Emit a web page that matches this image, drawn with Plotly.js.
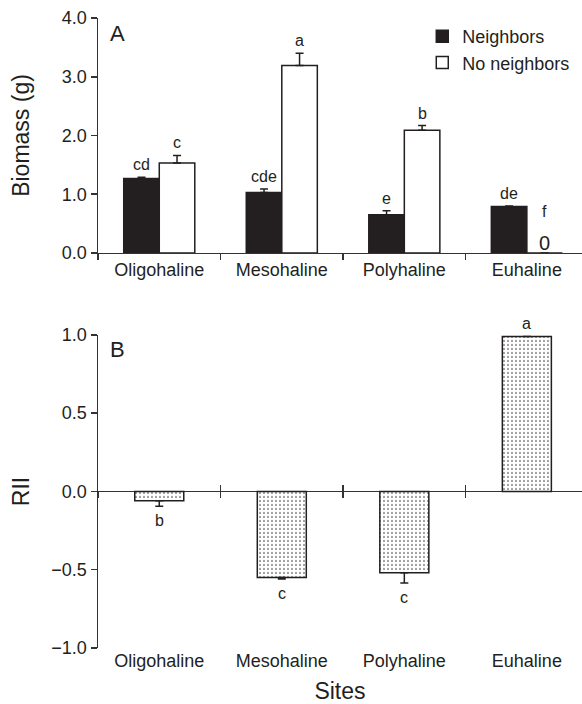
<!DOCTYPE html>
<html>
<head>
<meta charset="utf-8">
<script src="https://cdn.plot.ly/plotly-3.0.1.min.js"></script>
<style>html,body{margin:0;padding:0;background:#fff;}#chart{width:582px;height:704px;}</style>
</head>
<body>
<div id="chart"></div>
<script>
// ---- data ----
const sites = ['Oligohaline', 'Mesohaline', 'Polyhaline', 'Euhaline'];
const neighbors = [1.27, 1.03, 0.65, 0.79];
const neighborsErr = [0.02, 0.06, 0.07, 0.01];
const neighborsLetters = ['cd', 'cde', 'e', 'de'];
const noNeighbors = [1.53, 3.19, 2.09, 0];
const noNeighborsErr = [0.13, 0.21, 0.08, 0];
const noNeighborsLetters = ['c', 'a', 'b', 'f'];
const rii = [-0.06, -0.55, -0.52, 0.99];
const riiErr = [0.035, 0.01, 0.065, 0];
const riiLetters = ['b', 'c', 'c', 'a'];

// ---- styling ----
const FONT = 'Liberation Sans, Arial, Helvetica, sans-serif';
const INK = '#231f20';
const AX = '#333333';
const BARGAP = 0.42;
const half = (1 - BARGAP) / 4; // offset of each grouped bar centre
const domA = [0.627, 1];
const domB = [0, 0.497];
const yBRange = [-1, 1];
const zeroPos = domB[0] + (0 - yBRange[0]) / (yBRange[1] - yBRange[0]) * (domB[1] - domB[0]);
const xRange = [-0.5, 3.45];
const zeros = sites.map(() => 0);

const traces = [
  {
    type: 'bar', name: 'Neighbors', x: sites, y: neighbors, xaxis: 'x', yaxis: 'y',
    marker: {color: INK, line: {color: INK, width: 1.5}},
    error_y: {type: 'data', symmetric: false, array: neighborsErr, arrayminus: zeros, color: INK, thickness: 1.5, width: 4},
    hoverinfo: 'skip'
  },
  {
    type: 'bar', name: 'No neighbors', x: sites, y: noNeighbors, xaxis: 'x', yaxis: 'y',
    marker: {color: '#ffffff', line: {color: INK, width: 1.5}},
    error_y: {type: 'data', symmetric: false, array: noNeighborsErr, arrayminus: zeros, color: INK, thickness: 1.5, width: 4},
    hoverinfo: 'skip'
  },
  {
    type: 'bar', name: 'RII', x: sites, y: rii, xaxis: 'x2', yaxis: 'y2', width: 0.4, showlegend: false,
    marker: {color: '#ffffff', line: {color: INK, width: 1.5},
      pattern: {shape: '.', fgcolor: '#444444', bgcolor: '#ffffff', size: 4, solidity: 0.15}},
    error_y: {type: 'data', symmetric: false, array: zeros, arrayminus: riiErr, color: INK, thickness: 1.5, width: 4},
    hoverinfo: 'skip'
  },
  {type: 'scatter', mode: 'none', x: sites, y: rii, xaxis: 'x3', yaxis: 'y2', showlegend: false, hoverinfo: 'skip'},
  {type: 'scatter', mode: 'none', x: sites, y: rii, xaxis: 'x4', yaxis: 'y2', showlegend: false, hoverinfo: 'skip'}
];

const annotations = [];
const letterFont = {family: FONT, size: 16, color: INK};
sites.forEach((s, i) => {
  annotations.push({xref: 'x', yref: 'y', x: i - half, y: neighbors[i] + neighborsErr[i], text: neighborsLetters[i],
    showarrow: false, yanchor: 'middle', yshift: 12.5, font: letterFont});
  if (noNeighbors[i] === 0) {
    annotations.push({xref: 'x', yref: 'y', x: i + half, y: 0, text: String(noNeighbors[i]),
      showarrow: false, yanchor: 'middle', yshift: 10, font: {family: FONT, size: 20, color: INK}});
    annotations.push({xref: 'x', yref: 'y', x: i + half, y: 0, text: noNeighborsLetters[i],
      showarrow: false, yanchor: 'middle', yshift: 41, font: letterFont});
  } else {
    annotations.push({xref: 'x', yref: 'y', x: i + half, y: noNeighbors[i] + noNeighborsErr[i], text: noNeighborsLetters[i],
      showarrow: false, yanchor: 'middle', yshift: 12.5, font: letterFont});
  }
  const neg = rii[i] < 0;
  annotations.push({xref: 'x2', yref: 'y2', x: i, y: neg ? rii[i] - riiErr[i] : rii[i],
    text: riiLetters[i], showarrow: false, yanchor: 'middle', yshift: neg ? -14 : 13, font: letterFont});
});
annotations.push({xref: 'x domain', yref: 'y domain', x: 0.02, y: 0.995, xanchor: 'left', yanchor: 'top',
  text: 'A', showarrow: false, font: {family: FONT, size: 22, color: INK}});
annotations.push({xref: 'x2 domain', yref: 'y2 domain', x: 0.02, y: 1.0, xanchor: 'left', yanchor: 'top',
  text: 'B', showarrow: false, font: {family: FONT, size: 22, color: INK}});

const tickFont = {family: FONT, size: 18, color: INK};
const titleFont = {family: FONT, size: 23, color: INK};

const layout = {
  width: 582, height: 704,
  margin: {l: 98, r: 0, t: 18, b: 56},
  paper_bgcolor: '#ffffff', plot_bgcolor: 'rgba(0,0,0,0)',
  font: {family: FONT, color: INK},
  barmode: 'group', bargap: BARGAP, bargroupgap: 0,
  showlegend: true,
  legend: {x: 0.67, xanchor: 'left', y: 1.0, yanchor: 'top', bgcolor: 'rgba(0,0,0,0)',
    font: {family: FONT, size: 18, color: INK}, tracegroupgap: 0, itemwidth: 30},
  xaxis: {domain: [0, 1], anchor: 'y', type: 'category', range: xRange, showline: true, linecolor: AX, linewidth: 1.5,
    ticks: 'outside', tickson: 'boundaries', ticklen: 6, tickwidth: 1.5, tickcolor: AX, tickfont: tickFont,
    showgrid: false, zeroline: false, fixedrange: true},
  yaxis: {domain: domA, anchor: 'x', range: [0, 4], dtick: 1, tickformat: '.1f', showline: true, linecolor: AX, linewidth: 1.5,
    ticks: 'outside', ticklen: 6, tickwidth: 1.5, tickcolor: AX, tickfont: tickFont, showgrid: false, zeroline: false,
    title: {text: 'Biomass (g)', font: titleFont, standoff: 26}},
  xaxis2: {domain: [0, 1], anchor: 'y2', type: 'category', range: xRange, showline: false, ticks: '', tickfont: tickFont,
    showgrid: false, zeroline: false, title: {text: 'Sites', font: titleFont, standoff: 13}},
  xaxis3: {overlaying: 'x2', anchor: 'free', position: zeroPos, type: 'category', range: xRange, showline: false,
    ticks: 'outside', tickson: 'boundaries', ticklen: 6, tickwidth: 1.5, tickcolor: AX, showticklabels: false, showgrid: false, zeroline: false},
  xaxis4: {overlaying: 'x2', anchor: 'free', position: zeroPos, type: 'category', range: xRange, showline: false,
    ticks: 'inside', tickson: 'boundaries', ticklen: 6, tickwidth: 1.5, tickcolor: AX, showticklabels: false, showgrid: false, zeroline: false},
  yaxis2: {domain: domB, anchor: 'x2', range: yBRange, dtick: 0.5, tickformat: '.1f', showline: true, linecolor: AX, linewidth: 1.5,
    ticks: 'outside', ticklen: 6, tickwidth: 1.5, tickcolor: AX, tickfont: tickFont, showgrid: false,
    zeroline: true, zerolinecolor: AX, zerolinewidth: 1.5,
    title: {text: 'RII', font: titleFont, standoff: 15}},
  annotations: annotations
};

Plotly.newPlot('chart', traces, layout, {staticPlot: true, displayModeBar: false});
</script>
</body>
</html>
